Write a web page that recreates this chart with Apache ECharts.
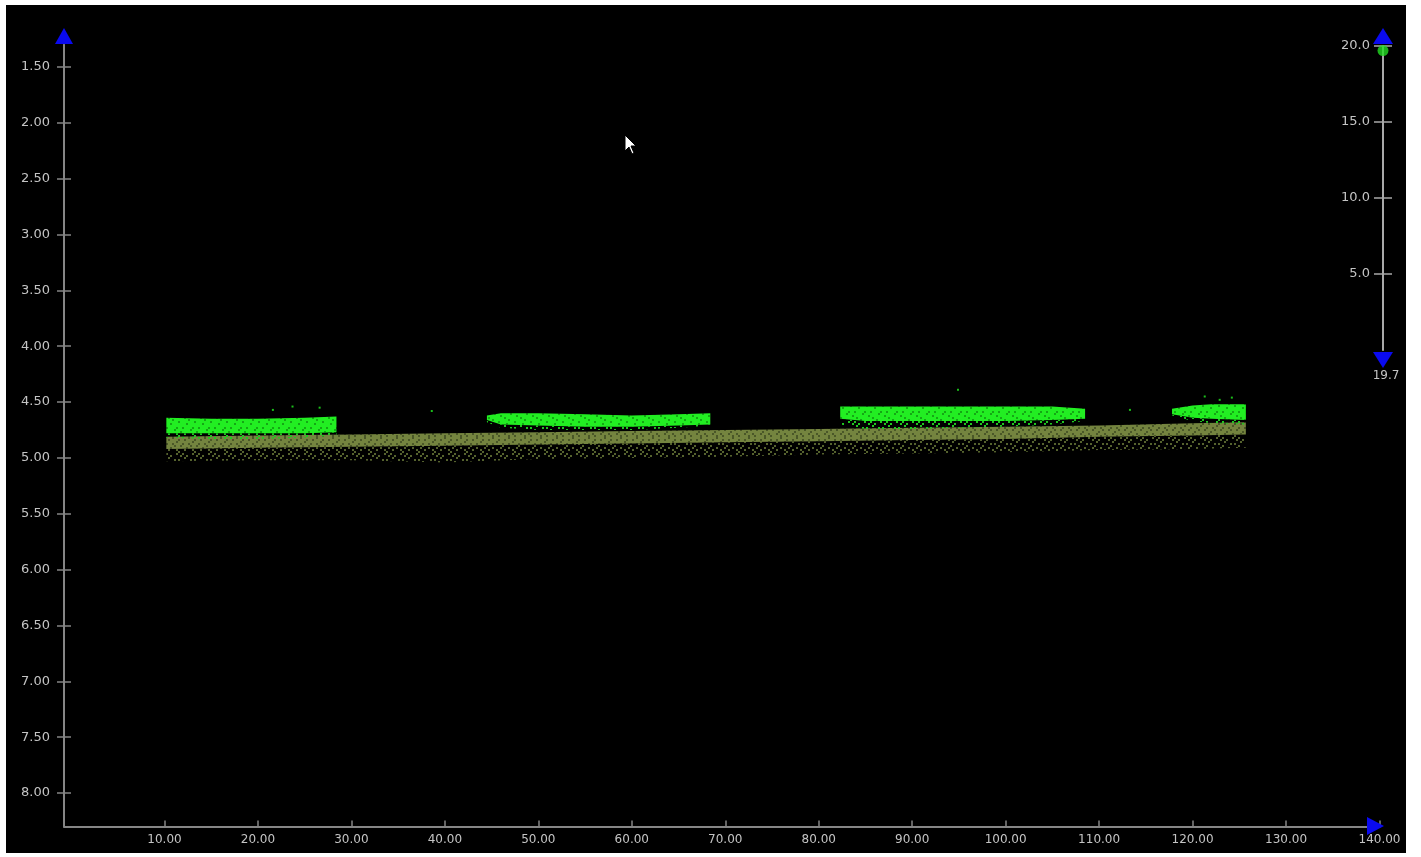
<!DOCTYPE html>
<html>
<head>
<meta charset="utf-8">
<script src="https://cdn.jsdelivr.net/npm/echarts@6/dist/echarts.min.js"></script>
<style>
  html, body { margin: 0; padding: 0; background: #ffffff; width: 1421px; height: 857px; overflow: hidden; }
  #chart { position: absolute; left: 6px; top: 5px; width: 1400px; height: 848px; background: #000; }
</style>
</head>
<body>
<div id="chart"></div>
<script>
// ---- tick labels ----
const xTicks = [10, 20, 30, 40, 50, 60, 70, 80, 90, 100, 110, 120, 130, 140];
const yTicks = [1.5, 2, 2.5, 3, 3.5, 4, 4.5, 5, 5.5, 6, 6.5, 7, 7.5, 8];
const sliderTicks = [5, 10, 15, 20];
const sliderValue = 19.7;
const sliderLabel = '19.7';

// ---- ground band (olive) : x, core top, core bottom, sparse fringe bottom ----
const groundX      = [10.2, 20, 30, 40, 50, 60, 70, 80, 90, 100, 110, 120, 125.7];
const groundTop    = [4.81, 4.80, 4.79, 4.78, 4.77, 4.76, 4.75, 4.74, 4.73, 4.72, 4.71, 4.69, 4.68];
const groundBottom = [4.92, 4.91, 4.90, 4.89, 4.88, 4.87, 4.86, 4.85, 4.84, 4.83, 4.81, 4.80, 4.79];
const groundFringe = [5.03, 5.02, 5.02, 5.04, 5.01, 5.00, 4.99, 4.97, 4.96, 4.95, 4.93, 4.92, 4.91];

// ---- green segments : x, top, bottom, fringe bottom ----
const seg1X      = [10.2, 15, 20, 25, 28.4];
const seg1Top    = [4.64, 4.65, 4.65, 4.64, 4.63];
const seg1Bottom = [4.78, 4.78, 4.78, 4.78, 4.77];
const seg1Fringe = [4.82, 4.83, 4.83, 4.82, 4.80];

const seg2X      = [44.5, 46, 50, 55, 60, 65, 68.4];
const seg2Top    = [4.62, 4.60, 4.60, 4.61, 4.62, 4.61, 4.60];
const seg2Bottom = [4.66, 4.70, 4.71, 4.72, 4.72, 4.71, 4.70];
const seg2Fringe = [4.68, 4.73, 4.75, 4.75, 4.75, 4.73, 4.71];

const seg3X      = [82.3, 85, 90, 95, 100, 105, 108.5];
const seg3Top    = [4.54, 4.54, 4.54, 4.54, 4.54, 4.54, 4.56];
const seg3Bottom = [4.65, 4.67, 4.67, 4.67, 4.67, 4.66, 4.65];
const seg3Fringe = [4.70, 4.74, 4.74, 4.73, 4.72, 4.70, 4.67];

const seg4X      = [117.8, 120, 122, 125.7];
const seg4Top    = [4.56, 4.53, 4.52, 4.52];
const seg4Bottom = [4.61, 4.64, 4.65, 4.66];
const seg4Fringe = [4.62, 4.67, 4.69, 4.70];

// ---- isolated green returns ----
const outlierX = [21.6, 23.7, 26.6, 38.6, 94.9, 113.3, 121.3, 122.9, 124.2];
const outlierY = [4.57, 4.54, 4.55, 4.58, 4.39, 4.57, 4.45, 4.48, 4.46];

const GREEN = '#22ee22';
const OLIVE = '#74843f';
const LABEL = '#c4c4c4';
const AXIS = '#858585';
const SLIDER = '#a8a8a8';
const BLUE = '#0a0af0';
const FONT = 'DejaVu Sans';

// fixed speckle masks (styling texture only)
const MASK_DENSE = ['11101111', '10111101', '11111011', '01101111', '11110110', '11011111', '10111011', '11101101'];
const MASK_GREEN = ['11111101', '11011111', '11111111', '01111011', '11110111', '11111110', '10111111', '11101111'];
const MASK_SPARSE = ['10000100', '00100001', '01000000', '00001010', '10000000', '00010001', '01000100', '00000010'];

function pattern(mask, on, off) {
  const c = document.createElement('canvas');
  c.width = 16; c.height = 16;
  const g = c.getContext('2d');
  g.fillStyle = off; g.fillRect(0, 0, 16, 16);
  g.fillStyle = on;
  for (let r = 0; r < 8; r++) for (let k = 0; k < 8; k++) {
    if (mask[r][k] === '1') g.fillRect(k * 2, r * 2, 2, 2);
  }
  return { image: c, repeat: 'repeat' };
}

function band(name, xs, tops, bots, fill, z) {
  return {
    type: 'custom', name: name, xAxisIndex: 0, yAxisIndex: 0, z: z, silent: true,
    data: xs.map((x, i) => [x, tops[i], bots[i]]),
    encode: { x: 0, y: [1, 2] },
    renderItem: function (params, api) {
      if (params.dataIndex !== 0) return null;
      const pts = [];
      for (let i = 0; i < xs.length; i++) pts.push(api.coord([xs[i], tops[i]]));
      for (let i = xs.length - 1; i >= 0; i--) pts.push(api.coord([xs[i], bots[i]]));
      return { type: 'polygon', shape: { points: pts }, style: { fill: fill } };
    }
  };
}

const chart = echarts.init(document.getElementById('chart'), null, { renderer: 'canvas' });

const labelStyle = { color: LABEL, fontFamily: FONT, fontSize: 12 };
const yLabelStyle = { color: LABEL, fontFamily: FONT, fontSize: 13 };

const groundFill = pattern(MASK_DENSE, OLIVE, '#4a5728');
const fringeFill = pattern(MASK_SPARSE, '#55622e', 'rgba(0,0,0,0)');
const greenFill = pattern(MASK_GREEN, GREEN, '#14a814');
const greenFringeFill = pattern(MASK_SPARSE, '#1fc81f', 'rgba(0,0,0,0)');

const option = {
  backgroundColor: '#000000',
  animation: false,
  grid: [
    { left: 58, right: 26.5, top: 39.66, bottom: 26.5, containLabel: false },
    { left: 1377, width: 10, top: 41, height: 304, containLabel: false }
  ],
  xAxis: [
    {
      type: 'value', gridIndex: 0, min: -0.75, max: 140,
      axisLine: { show: true, onZero: false, lineStyle: { color: AXIS, width: 2 } },
      axisTick: { show: true, inside: true, length: 6, customValues: xTicks, lineStyle: { color: AXIS, width: 1.5 } },
      axisLabel: Object.assign({ show: true, margin: 7, customValues: xTicks, formatter: v => v.toFixed(2) }, labelStyle),
      splitLine: { show: false }
    },
    { type: 'value', gridIndex: 1, min: 0, max: 1, show: false }
  ],
  yAxis: [
    {
      type: 'value', gridIndex: 0, position: 'left', inverse: true, min: 1.3, max: 8.3,
      axisLine: { show: true, onZero: false, lineStyle: { color: AXIS, width: 2 } },
      axisTick: { show: true, length: 7, customValues: yTicks, lineStyle: { color: AXIS, width: 1.5 } },
      axisLabel: Object.assign({ show: true, margin: 14, customValues: yTicks, formatter: v => v.toFixed(2) }, yLabelStyle),
      splitLine: { show: false }
    },
    {
      type: 'value', gridIndex: 0, position: 'left', inverse: true, min: 1.3, max: 8.3,
      axisLine: { show: false, onZero: false },
      axisTick: { show: true, inside: true, length: 7, customValues: yTicks, lineStyle: { color: AXIS, width: 1.5 } },
      axisLabel: { show: false },
      splitLine: { show: false }
    },
    {
      type: 'value', gridIndex: 1, position: 'left', min: 0, max: 20,
      axisLine: { show: true, onZero: false, lineStyle: { color: SLIDER, width: 2 } },
      axisTick: { show: true, length: 9, customValues: sliderTicks, lineStyle: { color: SLIDER, width: 1.5 } },
      axisLabel: Object.assign({ show: true, margin: 13, customValues: sliderTicks, formatter: v => v.toFixed(1) }, yLabelStyle),
      splitLine: { show: false }
    },
    {
      type: 'value', gridIndex: 1, position: 'left', min: 0, max: 20,
      axisLine: { show: false, onZero: false },
      axisTick: { show: true, inside: true, length: 9, customValues: sliderTicks, lineStyle: { color: SLIDER, width: 1.5 } },
      axisLabel: { show: false },
      splitLine: { show: false }
    }
  ],
  series: [
    band('groundFringe', groundX, groundBottom, groundFringe, fringeFill, 2),
    band('ground', groundX, groundTop, groundBottom, groundFill, 3),
    band('seg1Fringe', seg1X, seg1Bottom, seg1Fringe, greenFringeFill, 4),
    band('seg2Fringe', seg2X, seg2Bottom, seg2Fringe, greenFringeFill, 4),
    band('seg3Fringe', seg3X, seg3Bottom, seg3Fringe, greenFringeFill, 4),
    band('seg4Fringe', seg4X, seg4Bottom, seg4Fringe, greenFringeFill, 4),
    band('seg1', seg1X, seg1Top, seg1Bottom, greenFill, 5),
    band('seg2', seg2X, seg2Top, seg2Bottom, greenFill, 5),
    band('seg3', seg3X, seg3Top, seg3Bottom, greenFill, 5),
    band('seg4', seg4X, seg4Top, seg4Bottom, greenFill, 5),
    {
      type: 'scatter', name: 'outliers', xAxisIndex: 0, yAxisIndex: 0, z: 6, silent: true,
      symbol: 'rect', symbolSize: 2, itemStyle: { color: GREEN },
      data: outlierX.map((x, i) => [x, outlierY[i]])
    },
    {
      type: 'scatter', name: 'slider', xAxisIndex: 1, yAxisIndex: 2, z: 10, silent: true,
      symbol: 'circle', symbolSize: 11, itemStyle: { color: '#22dd22' },
      data: [[0, sliderValue]]
    }
  ],
  graphic: [
    // axis arrows
    { type: 'polygon', silent: true, z: 100, shape: { points: [[58, 23], [49, 39], [67, 39]] }, style: { fill: BLUE } },
    { type: 'polygon', silent: true, z: 100, shape: { points: [[1378, 821], [1361, 812], [1361, 830]] }, style: { fill: BLUE } },
    { type: 'polygon', silent: true, z: 100, shape: { points: [[1377, 23], [1367, 39], [1387, 39]] }, style: { fill: BLUE } },
    { type: 'polygon', silent: true, z: 100, shape: { points: [[1367, 347], [1387, 347], [1377, 363]] }, style: { fill: BLUE } },
    { type: 'text', silent: true, z: 100, x: 1380, y: 371, style: { text: sliderLabel, fill: LABEL, font: '12px "DejaVu Sans"', textAlign: 'center', textVerticalAlign: 'middle' } },
    // mouse pointer
    { type: 'polygon', silent: true, z: 100, x: 619, y: 130,
      shape: { points: [[0, 0], [0, 16], [4, 12], [7, 19], [9, 18], [6, 11], [11, 11]] },
      style: { fill: '#ffffff', stroke: '#000000', lineWidth: 1 } }
  ]
};

chart.setOption(option);
</script>
</body>
</html>
